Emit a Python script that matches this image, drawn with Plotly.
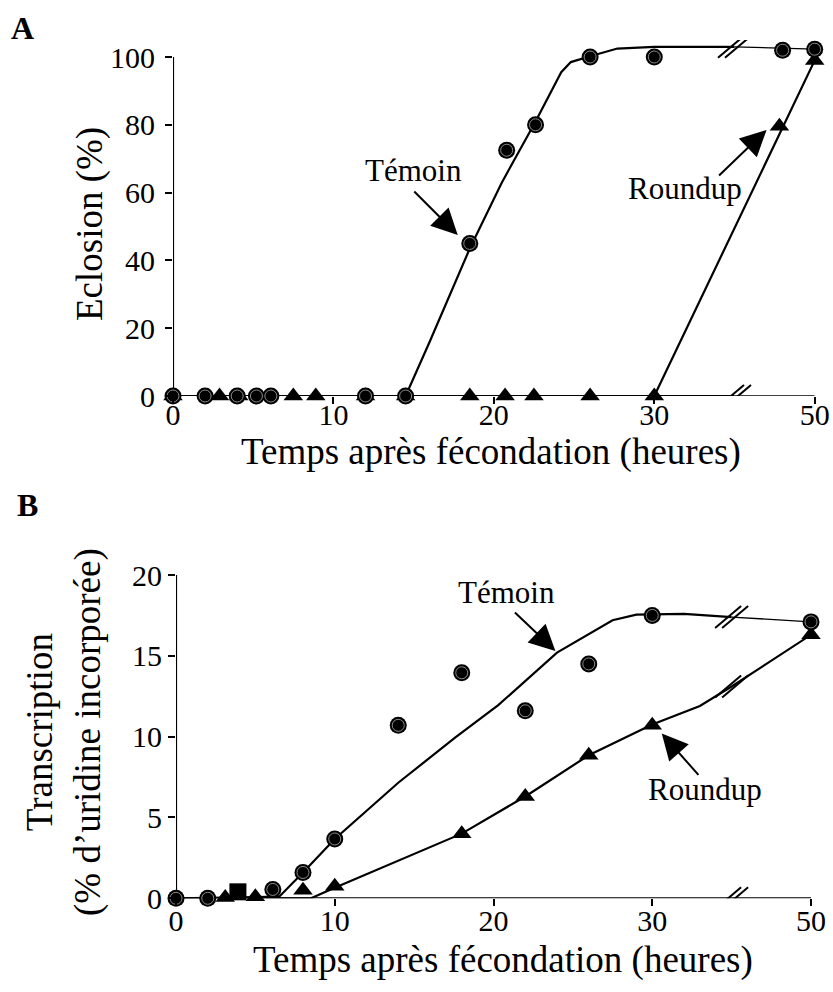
import numpy as np
import plotly.graph_objects as go

# ---------------- data (hours after fertilisation) ----------------
BREAK_H = 35.0      # axis break position (hours)
GAP_H = 10.0        # hours hidden by the break (50 h drawn where 40 h would be)

x_tick_hours = [0, 10, 20, 30, 50]

# Panel A : Eclosion (%)
a_temoin_x = [0, 2, 4, 5.2, 6.1, 12, 14.5, 18.5, 20.8, 22.6, 26, 30, 48, 50]
a_temoin_y = [0, 0, 0, 0, 0, 0, 0, 45, 72.5, 80, 100, 100, 102, 102.3]
a_roundup_x = [0, 2.9, 4.1, 7.5, 8.9, 12, 14.5, 18.5, 20.7, 22.5, 26, 30, 47.8, 50]
a_roundup_y = [0, 0, 0, 0, 0, 0, 0, 0, 0, 0, 0, 0, 79.6, 99]
a_temoin_fit_x = [0, 14.5, 16, 18.5, 20.5, 22.6, 24.2, 24.8, 26, 27.7, 30, 35, 50]
a_temoin_fit_y = [0, 0, 16, 43.5, 63, 81, 95.5, 98.5, 100.2, 102.5, 103, 103, 102.3]
a_roundup_fit_x = [0, 30, 50]
a_roundup_fit_y = [0, 0, 99]
a_y_ticks = [0, 20, 40, 60, 80, 100]

# Panel B : Transcription (% d'uridine incorporée)
b_temoin_x = [0, 2, 3.9, 6.1, 8, 10, 14, 18, 22, 26, 30, 50]
b_temoin_y = [0, 0, 0.4, 0.55, 1.6, 3.67, 10.7, 13.95, 11.6, 14.5, 17.5, 17.1]
b_temoin_symbols = ["circle", "circle", "square", "circle", "circle", "circle",
                    "circle", "circle", "circle", "circle", "circle", "circle"]
b_roundup_x = [3.1, 5, 8, 10, 18, 22, 26, 30, 50]
b_roundup_y = [0.05, 0.1, 0.5, 0.75, 4.0, 6.3, 8.85, 10.7, 16.3]
b_temoin_fit_x = [0, 6.5, 8, 10, 14, 17.6, 20.3, 24, 27.5, 29, 32, 35, 50]
b_temoin_fit_y = [0, 0.1, 1.6, 3.67, 7.15, 9.95, 11.95, 15.2, 17.2, 17.55, 17.6, 17.4, 17.1]
b_roundup_fit_x = [0, 8.5, 10, 18, 22, 26, 30, 33, 35, 50]
b_roundup_fit_y = [0, 0, 0.65, 4.0, 6.3, 8.85, 10.75, 11.9, 13.1, 16.3]
b_y_ticks = [0, 5, 10, 15, 20]

FONT = "Liberation Serif"


def disp(v):
    v = np.asarray(v, dtype=float)
    return np.where(v > BREAK_H, v - GAP_H, v)


W, H = 833, 992

# pixel layout of the two panels
A_X0, A_X1 = 173, 814.7
A_Y0PX, A_YPX_PER = 396, 3.39
A_YMAX = 105
B_X0, B_X1 = 176, 811
B_Y0PX, B_Y20PX = 898.3, 575

fig = go.Figure()


def add_fit(xs, ys, xa, ya, thin_after_break):
    xs = np.asarray(xs, float)
    ys = np.asarray(ys, float)
    if thin_after_break:
        yb = float(np.interp(BREAK_H, xs, ys))
        m1 = xs <= BREAK_H
        m2 = xs >= BREAK_H
        x1 = np.append(xs[m1], BREAK_H) if xs[m1][-1] < BREAK_H else xs[m1]
        y1 = np.append(ys[m1], yb) if xs[m1][-1] < BREAK_H else ys[m1]
        x2 = np.insert(xs[m2], 0, BREAK_H) if xs[m2][0] > BREAK_H else xs[m2]
        y2 = np.insert(ys[m2], 0, yb) if xs[m2][0] > BREAK_H else ys[m2]
        fig.add_trace(go.Scatter(x=disp(x1), y=y1, mode="lines", xaxis=xa, yaxis=ya,
                                 line=dict(color="black", width=2.2), hoverinfo="skip"))
        fig.add_trace(go.Scatter(x=disp(x2), y=y2, mode="lines", xaxis=xa, yaxis=ya,
                                 line=dict(color="black", width=1.3), hoverinfo="skip"))
    else:
        fig.add_trace(go.Scatter(x=disp(xs), y=ys, mode="lines", xaxis=xa, yaxis=ya,
                                 line=dict(color="black", width=2.2), hoverinfo="skip"))


def add_circles(xs, ys, xa, ya, symbols=None, name="Témoin"):
    if symbols is None:
        symbols = ["circle"] * len(xs)
    fig.add_trace(go.Scatter(x=disp(xs), y=ys, mode="markers", xaxis=xa, yaxis=ya, name=name,
                             cliponaxis=False,
                             marker=dict(symbol=symbols, size=17, color="black",
                                         line=dict(width=0))))
    cx = [x for x, s in zip(xs, symbols) if s == "circle"]
    cy = [y for y, s in zip(ys, symbols) if s == "circle"]
    fig.add_trace(go.Scatter(x=disp(cx), y=cy, mode="markers", xaxis=xa, yaxis=ya,
                             cliponaxis=False, hoverinfo="skip",
                             marker=dict(symbol="circle", size=12, color="black",
                                         line=dict(width=1, color="#8a8a8a"))))


def add_triangles(xs, ys, xa, ya, name="Roundup"):
    fig.add_trace(go.Scatter(x=disp(xs), y=ys, mode="markers", xaxis=xa, yaxis=ya, name=name,
                             cliponaxis=False,
                             marker=dict(symbol="triangle-up", size=17, color="black",
                                         line=dict(width=0))))


# ---- panel A
add_fit(a_temoin_fit_x, a_temoin_fit_y, "x", "y", True)
add_fit(a_roundup_fit_x, a_roundup_fit_y, "x", "y", False)
add_triangles(a_roundup_x, a_roundup_y, "x", "y")
add_circles(a_temoin_x, a_temoin_y, "x", "y")

# ---- panel B
add_fit(b_temoin_fit_x, b_temoin_fit_y, "x2", "y2", True)
add_fit(b_roundup_fit_x, b_roundup_fit_y, "x2", "y2", False)
add_triangles(b_roundup_x, b_roundup_y, "x2", "y2")
add_circles(b_temoin_x, b_temoin_y, "x2", "y2", symbols=b_temoin_symbols)

xmax_disp = float(disp([50])[0])
tickvals = disp(x_tick_hours).tolist()
ticktext = [str(v) for v in x_tick_hours]

axis_common = dict(showgrid=False, zeroline=False, showline=False, ticks="outside",
                   ticklen=7, tickwidth=2, tickcolor="black", automargin=False,
                   tickfont=dict(family=FONT, size=30, color="black"))

a_ytop_px = A_Y0PX - A_YMAX * A_YPX_PER
fig.update_layout(
    width=W, height=H, margin=dict(l=0, r=0, t=0, b=0, pad=0, autoexpand=False),
    paper_bgcolor="white", plot_bgcolor="white", showlegend=False,
    font=dict(family=FONT, color="black"),
    xaxis=dict(domain=[A_X0 / W, A_X1 / W], range=[0, xmax_disp], anchor="y",
               tickvals=tickvals, ticktext=ticktext, ticklabelstandoff=-15, **axis_common),
    yaxis=dict(domain=[1 - A_Y0PX / H, 1 - a_ytop_px / H], range=[0, A_YMAX], anchor="x",
               tickvals=a_y_ticks, ticklabelstandoff=4, **axis_common),
    xaxis2=dict(domain=[B_X0 / W, B_X1 / W], range=[0, xmax_disp], anchor="y2",
                tickvals=tickvals, ticktext=ticktext, ticklabelstandoff=-11, **axis_common),
    yaxis2=dict(domain=[1 - B_Y0PX / H, 1 - B_Y20PX / H], range=[0, 20], anchor="x2",
                tickvals=b_y_ticks, ticklabelstandoff=0, **axis_common),
)

# ---- axis lines and break marks
shapes = []


def seg(xref, yref, x0, y0, x1, y1, w=2):
    shapes.append(dict(type="line", xref=xref, yref=yref, x0=x0, y0=y0, x1=x1, y1=y1,
                       line=dict(color="black", width=w), layer="below"))


brk = float(disp([BREAK_H])[0])
seg("x", "y", 0, 0, brk, 0, 2.2)
seg("x", "y", brk, 0, xmax_disp, 0, 1.3)
seg("x", "y", 0, 0, 0, 100, 2.2)
seg("x2", "y2", 0, 0, xmax_disp, 0, 2.2)
seg("x2", "y2", 0, 0, 0, 20, 2.2)


def break_mark(xref, yref, yval):
    for dx in (-3.5, 3.5):
        shapes.append(dict(type="line", xref=xref, yref=yref, xsizemode="pixel",
                           ysizemode="pixel", xanchor=brk, yanchor=yval,
                           x0=dx - 13, y0=-11, x1=dx + 13, y1=11,
                           line=dict(color="black", width=2)))


break_mark("x", "y", 0)
break_mark("x", "y", float(np.interp(BREAK_H, a_temoin_fit_x, a_temoin_fit_y)))
break_mark("x2", "y2", 0)
break_mark("x2", "y2", float(np.interp(BREAK_H, b_temoin_fit_x, b_temoin_fit_y)))
break_mark("x2", "y2", float(np.interp(BREAK_H, b_roundup_fit_x, b_roundup_fit_y)))

fig.update_layout(shapes=shapes)

# ---- annotations
ann = []
tfont = dict(family=FONT, size=31, color="black")


def label(xref, yref, x, y, text):
    ann.append(dict(xref=xref, yref=yref, x=x, y=y, text=text, showarrow=False,
                    font=tfont, xanchor="center", yanchor="middle"))


def arrow(xref, yref, x, y, ax, ay):
    ann.append(dict(xref=xref, yref=yref, x=x, y=y, text="", showarrow=True,
                    ax=ax, ay=ay, axref="pixel", ayref="pixel",
                    arrowhead=2, arrowsize=2.6, arrowwidth=2, arrowcolor="black"))


# panel A
label("x", "y", 14.96, 66.4, "Témoin")
arrow("x", "y", 17.75, 47.5, -45, -45)
label("x", "y", 31.9, 61.1, "Roundup")
arrow("x", "y", 37.0, 78.5, -49, 47)
# panel B
label("x2", "y2", 20.85, 18.9, "Témoin")
arrow("x2", "y2", 23.9, 15.3, -42, -40)
label("x2", "y2", 33.3, 6.7, "Roundup")
arrow("x2", "y2", 30.6, 10.2, 38, 43)

big = dict(family=FONT, size=37, color="black")
# panel letters
ann.append(dict(xref="paper", yref="paper", x=22 / W, y=1 - 28 / H, text="<b>A</b>",
                showarrow=False, font=dict(family=FONT, size=32, color="black"),
                xanchor="center", yanchor="middle"))
ann.append(dict(xref="paper", yref="paper", x=27 / W, y=1 - 505 / H, text="<b>B</b>",
                showarrow=False, font=dict(family=FONT, size=32, color="black"),
                xanchor="center", yanchor="middle"))
# axis titles
ann.append(dict(xref="paper", yref="paper", x=491 / W, y=1 - 452 / H,
                text="Temps après fécondation (heures)", showarrow=False, font=big,
                xanchor="center", yanchor="middle"))
ann.append(dict(xref="paper", yref="paper", x=90 / W, y=1 - 224 / H,
                text="Eclosion (%)", showarrow=False, font=big, textangle=-90,
                xanchor="center", yanchor="middle"))
ann.append(dict(xref="paper", yref="paper", x=503 / W, y=1 - 960 / H,
                text="Temps après fécondation (heures)", showarrow=False, font=big,
                xanchor="center", yanchor="middle"))
ann.append(dict(xref="paper", yref="paper", x=64 / W, y=1 - 732 / H,
                text="Transcription<br>(% d’uridine incorporée)", showarrow=False,
                font=big, textangle=-90, xanchor="center", yanchor="middle"))

fig.update_layout(annotations=ann)

fig.write_html("out.html")
